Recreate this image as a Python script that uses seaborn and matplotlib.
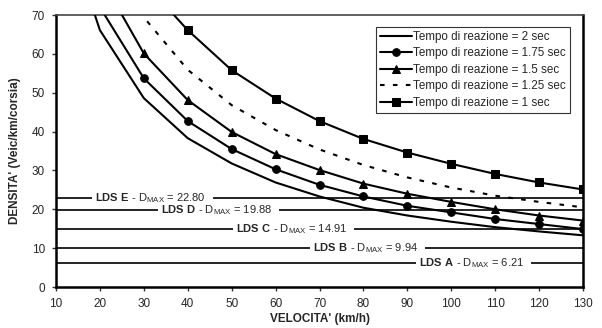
import matplotlib
matplotlib.use("Agg")
import matplotlib.pyplot as plt
import seaborn as sns
import pandas as pd

sns.set_theme(style="white")
plt.rcParams['font.family'] = ['Liberation Sans', 'DejaVu Sans']
plt.rcParams['mathtext.fontset'] = 'custom'
plt.rcParams['mathtext.rm'] = 'Liberation Sans'
plt.rcParams['mathtext.bf'] = 'Liberation Sans:bold'

speeds = [10, 20, 30, 40, 50, 60, 70, 80, 90, 100, 110, 120, 130]
dens_2 = [100, 66.1, 48.6, 38.3, 31.8, 26.9, 23.3, 20.4, 18.4, 16.8, 15.4, 14.3, 13.3]
dens_175 = [113, 72.0, 53.7, 42.7, 35.5, 30.3, 26.3, 23.3, 20.9, 19.2, 17.5, 16.2, 14.9]
dens_15 = [120, 80.0, 60.1, 48.1, 39.9, 34.2, 30.1, 26.6, 24.0, 21.9, 20.0, 18.4, 17.1]
dens_125 = [140, 91.0, 69.4, 55.9, 46.8, 40.4, 35.4, 31.4, 28.2, 25.6, 23.5, 21.9, 20.5]
dens_1 = [150, 110, 78.5, 66.1, 55.8, 48.5, 42.7, 38.1, 34.6, 31.7, 29.1, 26.9, 25.1]

series_labels = ["Tempo di reazione = 2 sec", "Tempo di reazione = 1.75 sec",
                 "Tempo di reazione = 1.5 sec", "Tempo di reazione = 1.25 sec",
                 "Tempo di reazione = 1 sec"]

lds_names = ["E", "D", "C", "B", "A"]
lds_values = [22.80, 19.88, 14.91, 9.94, 6.21]
lds_label_x = [32, 47, 64, 81, 105]

fig = plt.figure(figsize=(6.02, 3.28), dpi=100)
ax = fig.add_axes([56/602, 1-287/328, 527/602, 272/328])

# LDS horizontal lines
for val in lds_values:
    ax.axhline(val, color='black', lw=1.2, zorder=1)
# LDS labels (white box interrupts the line)
for name, val, lx in zip(lds_names, lds_values, lds_label_x):
    ax.text(lx, val, " " + r"$\bf{LDS\ " + name + r"}$ - D$_{\rm MAX}$ = "
            + f"{val:.2f}" + "   ",
            ha='center', va='center', fontsize=8.0, zorder=2,
            bbox=dict(facecolor='white', edgecolor='none',
                      boxstyle='square,pad=0'))

styles = [
    dict(marker=None, linestyle='-'),
    dict(marker='o', linestyle='-'),
    dict(marker='^', linestyle='-'),
    dict(marker=None, linestyle=(0, (2.2, 4))),
    dict(marker='s', linestyle='-'),
]
all_series = [dens_2, dens_175, dens_15, dens_125, dens_1]
for vals, lab, st in zip(all_series, series_labels, styles):
    df = pd.DataFrame({"v": speeds, "d": vals})
    kw = dict(color='black', lw=1.5, label=lab, ax=ax, zorder=3)
    if st['marker']:
        kw.update(marker=st['marker'], markersize=5.5, markeredgecolor='black',
                  markerfacecolor='black')
    sns.lineplot(data=df, x="v", y="d", linestyle=st['linestyle'], **kw)

ax.set_xlim(10, 130)
ax.set_ylim(0, 70)
ax.set_xticks(range(10, 131, 10))
ax.set_yticks(range(0, 71, 10))
ax.tick_params(axis='both', which='both', direction='out', length=3, width=1,
               color='#333333', labelsize=8.5, pad=5, bottom=True, left=True)
ax.set_xlabel("VELOCITA' (km/h)", fontsize=8.5, fontweight='bold', labelpad=2)
ax.set_ylabel("DENSITA' (Veic/km/corsia)", fontsize=8.5, fontweight='bold', labelpad=8)

for s in ['left', 'bottom', 'right']:
    ax.spines[s].set_color('black')
    ax.spines[s].set_linewidth(1.8)
ax.spines['top'].set_color('#444444')
ax.spines['top'].set_linewidth(1.2)

leg = ax.legend(loc='upper right', bbox_to_anchor=(0.975, 0.956), borderaxespad=0,
                fontsize=8.4, frameon=True, fancybox=False, handlelength=2.7,
                labelspacing=0.38, borderpad=0.35, handletextpad=0.1)
leg.get_frame().set_edgecolor('black')
leg.get_frame().set_linewidth(0.8)
leg.set_zorder(5)

fig.savefig("out.png", dpi=100)
